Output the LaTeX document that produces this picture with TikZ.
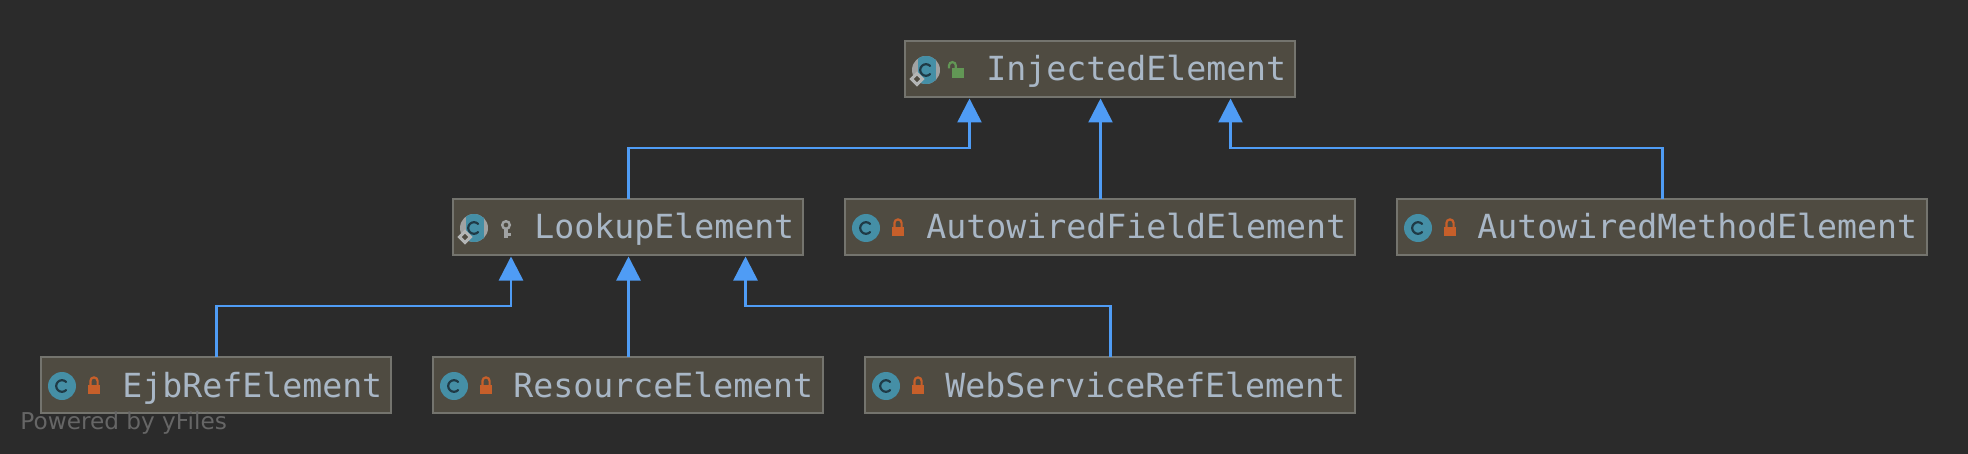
\documentclass[tikz,border=0pt]{standalone}
\usepackage{fontspec}
\setmainfont{DejaVu Sans Mono}
\newfontfamily\wmfont{DejaVu Sans}
\usetikzlibrary{arrows.meta}
\definecolor{bgc}{HTML}{2B2B2B}
\definecolor{boxfill}{HTML}{4F4B41}
\definecolor{boxline}{HTML}{74746E}
\definecolor{txtc}{HTML}{A9B7C6}
\definecolor{edgec}{HTML}{4F9CF5}
\definecolor{teal}{HTML}{458FA6}
\definecolor{cdark}{HTML}{1F3A46}
\definecolor{lockred}{HTML}{C75F2A}
\definecolor{lockgreen}{HTML}{629755}
\definecolor{greyic}{HTML}{A0A2A2}
\definecolor{wmc}{HTML}{666666}
\tikzset{
  x=0.5pt,y=-0.5pt,
  classbox/.style={draw=boxline,fill=boxfill,line width=1pt,inner sep=0pt,outer sep=0pt,minimum height=28pt,anchor=north west},
  boxlabel/.style={text=txtc,font=\fontsize{16.6pt}{18pt}\selectfont,inner sep=0pt,anchor=base west},
  inherit/.style={draw=edgec,line width=1.25pt,-{Triangle[length=12pt,width=12pt,fill=edgec]}},
  cletter/.style={draw=cdark,line width=1.1pt,line cap=round},
  pics/classicon/.style={code={
    \fill[teal] (0,0) circle[radius=14];
    \draw[cletter] (4.1,-4.1) arc[start angle=-45,end angle=-315,radius=5.8];
  }},
  pics/abstracticon/.style={code={
    \begin{scope}
      \clip (0,0) circle[radius=14];
      \fill[greyic] (-14,-14) rectangle (14,14);
      \fill[teal] (-8,-14) rectangle (10,14);
    \end{scope}
    \draw[cletter] (4.1,-4.1) arc[start angle=-45,end angle=-315,radius=5.8];
    \draw[draw=greyic!80!white,fill=boxfill,line width=1.5pt] (-9,3.5) -- (-3.5,9) -- (-9,14.5) -- (-14.5,9) -- cycle;
  }},
  pics/lockicon/.style={code={
    \fill[lockred] (-6,-1) rectangle (6,8);
    \draw[lockred,line width=1.1pt] (-3.6,-1) -- (-3.6,-5) arc[start angle=180,end angle=360,radius=3.6] -- (3.6,-1);
  }},
  pics/openlock/.style={code={
    \fill[lockgreen] (-6,-4) rectangle (6,6);
    \draw[lockgreen,line width=1.1pt] (-9,-3.5) -- (-9,-6.5) arc[start angle=180,end angle=360,radius=3.4] -- (-2.2,-4);
  }},
  pics/keyicon/.style={code={
    \draw[greyic,line width=1.2pt] (0,-4) circle[radius=3.8];
    \fill[greyic] (-2,0) rectangle (2,9.5);
    \fill[greyic] (2,4) rectangle (5,7);
  }},
}
\begin{document}
\begin{tikzpicture}
\useasboundingbox (0,0) rectangle (1968,454);
\fill[bgc] (0,0) rectangle (1968,454);

\node[classbox,minimum width=195pt] (injected) at (905,41) {};
\node[classbox,minimum width=175pt] (lookup) at (453,199) {};
\node[classbox,minimum width=255pt] (field) at (845,199) {};
\node[classbox,minimum width=265pt] (method) at (1397,199) {};
\node[classbox,minimum width=175pt] (ejb) at (41,357) {};
\node[classbox,minimum width=195pt] (resource) at (433,357) {};
\node[classbox,minimum width=245pt] (webservice) at (865,357) {};

\node[boxlabel] (linjected) at (986,81) {InjectedElement};
\node[boxlabel] (llookup) at (534,239) {LookupElement};
\node[boxlabel] (lfield) at (926,239) {AutowiredFieldElement};
\node[boxlabel] (lmethod) at (1477,239) {AutowiredMethodElement};
\node[boxlabel] (lejb) at (122,397) {EjbRefElement};
\node[boxlabel] (lresource) at (513,397) {ResourceElement};
\node[boxlabel] (lwebservice) at (945,397) {WebServiceRefElement};

\pic at (926,70) {abstracticon};
\pic at (958,72) {openlock};
\pic at (474,228) {abstracticon};
\pic at (506,229) {keyicon};
\pic at (866,228) {classicon};
\pic at (898,228) {lockicon};
\pic at (1418,228) {classicon};
\pic at (1450,228) {lockicon};
\pic at (62,386) {classicon};
\pic at (94,386) {lockicon};
\pic at (454,386) {classicon};
\pic at (486,386) {lockicon};
\pic at (886,386) {classicon};
\pic at (918,386) {lockicon};

\coordinate (t1) at (969.5,98.5);
\coordinate (t2) at (1100.5,98.5);
\coordinate (t3) at (1230.5,98.5);
\coordinate (t4) at (511,256.5);
\coordinate (t5) at (628.5,256.5);
\coordinate (t6) at (745.5,256.5);
\coordinate (b2) at (1100.5,199);
\coordinate (b3) at (1662.5,199);
\coordinate (b4) at (216.5,357);
\coordinate (b6) at (1110.5,357);
\coordinate (b5) at (628.5,357);
\coordinate (b1) at (628.5,199);

\draw[inherit] (b1) |- (969.5,148) -- (t1);
\draw[inherit] (b2) -- (t2);
\draw[inherit] (b3) |- (1230.5,148) -- (t3);
\draw[inherit] (b4) |- (511,306) -- (t4);
\draw[inherit] (b5) -- (t5);
\draw[inherit] (b6) |- (745.5,306) -- (t6);

\node[text=wmc,font=\wmfont\fontsize{11.6pt}{13pt}\selectfont,inner sep=0pt,anchor=base west] (wm) at (20,429) {Powered by yFiles};
\end{tikzpicture}
\end{document}
